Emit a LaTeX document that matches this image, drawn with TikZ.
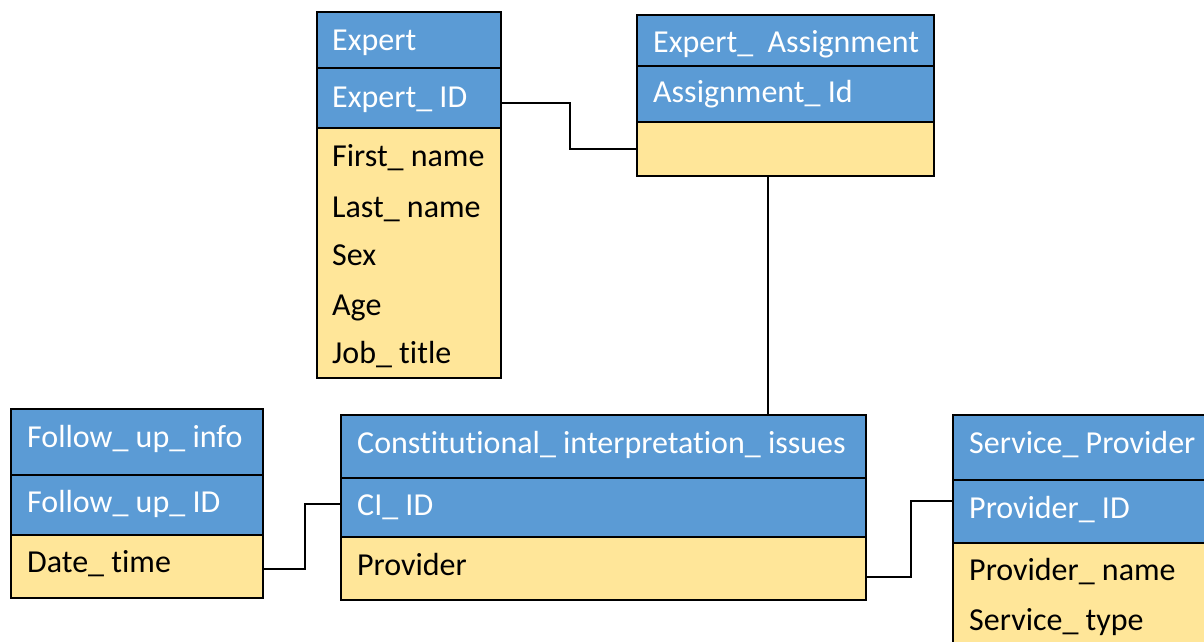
\documentclass[tikz,border=0pt]{standalone}
\usepackage{fontspec}
\setmainfont[Ligatures=NoCommon]{Carlito}
\definecolor{keyblue}{HTML}{5B9BD5}
\definecolor{attryellow}{HTML}{FFE699}
\begin{document}
\begin{tikzpicture}[x=1pt,y=-1pt,
  cell/.style={draw=black, line width=2pt, inner sep=0pt, outer sep=0pt, anchor=north west},
  head/.style={cell, fill=keyblue},
  attr/.style={cell, fill=attryellow},
  wtxt/.style={anchor=base west, text=white, font=\fontsize{32}{38}\selectfont, inner sep=0pt},
  btxt/.style={wtxt, text=black},
  link/.style={draw=black, line width=2pt}]
\useasboundingbox (0,0) rectangle (1204,641);
\clip (0,0) rectangle (1204,641);

% Expert
\node[head, minimum width=184pt, minimum height=56pt] (exp-h) at (317,12) {};
\node[head, minimum width=184pt, minimum height=60pt] (exp-k) at (317,68) {};
\node[attr, minimum width=184pt, minimum height=250pt] (exp-a) at (317,128) {};
\node[wtxt] (exp-t1) at (332,50) {Expert};
\node[wtxt] (exp-t2) at (332,107) {Expert\_ ID};
\node[btxt] (exp-t3) at (332,166) {First\_ name};
\node[btxt] (exp-t4) at (332,217) {Last\_ name};
\node[btxt] (exp-t5) at (332,265) {Sex};
\node[btxt] (exp-t6) at (332,315) {Age};
\node[btxt] (exp-t7) at (332,363) {Job\_ title};

% Expert_ Assignment
\node[head, minimum width=297pt, minimum height=51pt] (asg-h) at (637,15) {};
\node[head, minimum width=297pt, minimum height=56pt] (asg-k) at (637,66) {};
\node[attr, minimum width=297pt, minimum height=54pt] (asg-a) at (637,122) {};
\node[wtxt] (asg-t1) at (653,52) {Expert\_\ \ Assignment};
\node[wtxt] (asg-t2) at (653,102) {Assignment\_ Id};

% Follow_ up_ info
\node[head, minimum width=252pt, minimum height=66pt] (fu-h) at (11,409) {};
\node[head, minimum width=252pt, minimum height=60pt] (fu-k) at (11,475) {};
\node[attr, minimum width=252pt, minimum height=63pt] (fu-a) at (11,535) {};
\node[wtxt] (fu-t1) at (27,447) {Follow\_ up\_ info};
\node[wtxt] (fu-t2) at (27,512) {Follow\_ up\_ ID};
\node[btxt] (fu-t3) at (27,572) {Date\_ time};

% Constitutional_ interpretation_ issues
\node[head, minimum width=525pt, minimum height=63pt] (ci-h) at (341,415) {};
\node[head, minimum width=525pt, minimum height=59pt] (ci-k) at (341,478) {};
\node[attr, minimum width=525pt, minimum height=63pt] (ci-a) at (341,537) {};
\node[wtxt] (ci-t1) at (357,453) {Constitutional\_ interpretation\_ issues};
\node[wtxt] (ci-t2) at (357,515) {CI\_ ID};
\node[btxt] (ci-t3) at (357,575) {Provider};

% Service_ Provider
\node[head, minimum width=277pt, minimum height=65pt] (sp-h) at (953,415) {};
\node[head, minimum width=277pt, minimum height=63pt] (sp-k) at (953,480) {};
\node[attr, minimum width=277pt, minimum height=127pt] (sp-a) at (953,543) {};
\node[wtxt] (sp-t1) at (969,453) {Service\_ Provider};
\node[wtxt] (sp-t2) at (969,518) {Provider\_ ID};
\node[btxt] (sp-t3) at (969,580) {Provider\_ name};
\node[btxt] (sp-t4) at (969,630) {Service\_ type};

% relationships
\draw[link] ([yshift=-5pt]exp-k.east) -- ++(69,0) |- (asg-a.west);
\draw[link] ([xshift=-18pt]asg-a.south) -- ([xshift=-18pt]asg-a.south |- ci-h.north);
\draw[link] ([yshift=-2pt]fu-a.east) -- ++(42,0) |- ([yshift=4pt]ci-k.west);
\draw[link] ([yshift=-8pt]ci-a.east) -- ++(45,0) |- ([yshift=11pt]sp-k.west);
\end{tikzpicture}
\end{document}
